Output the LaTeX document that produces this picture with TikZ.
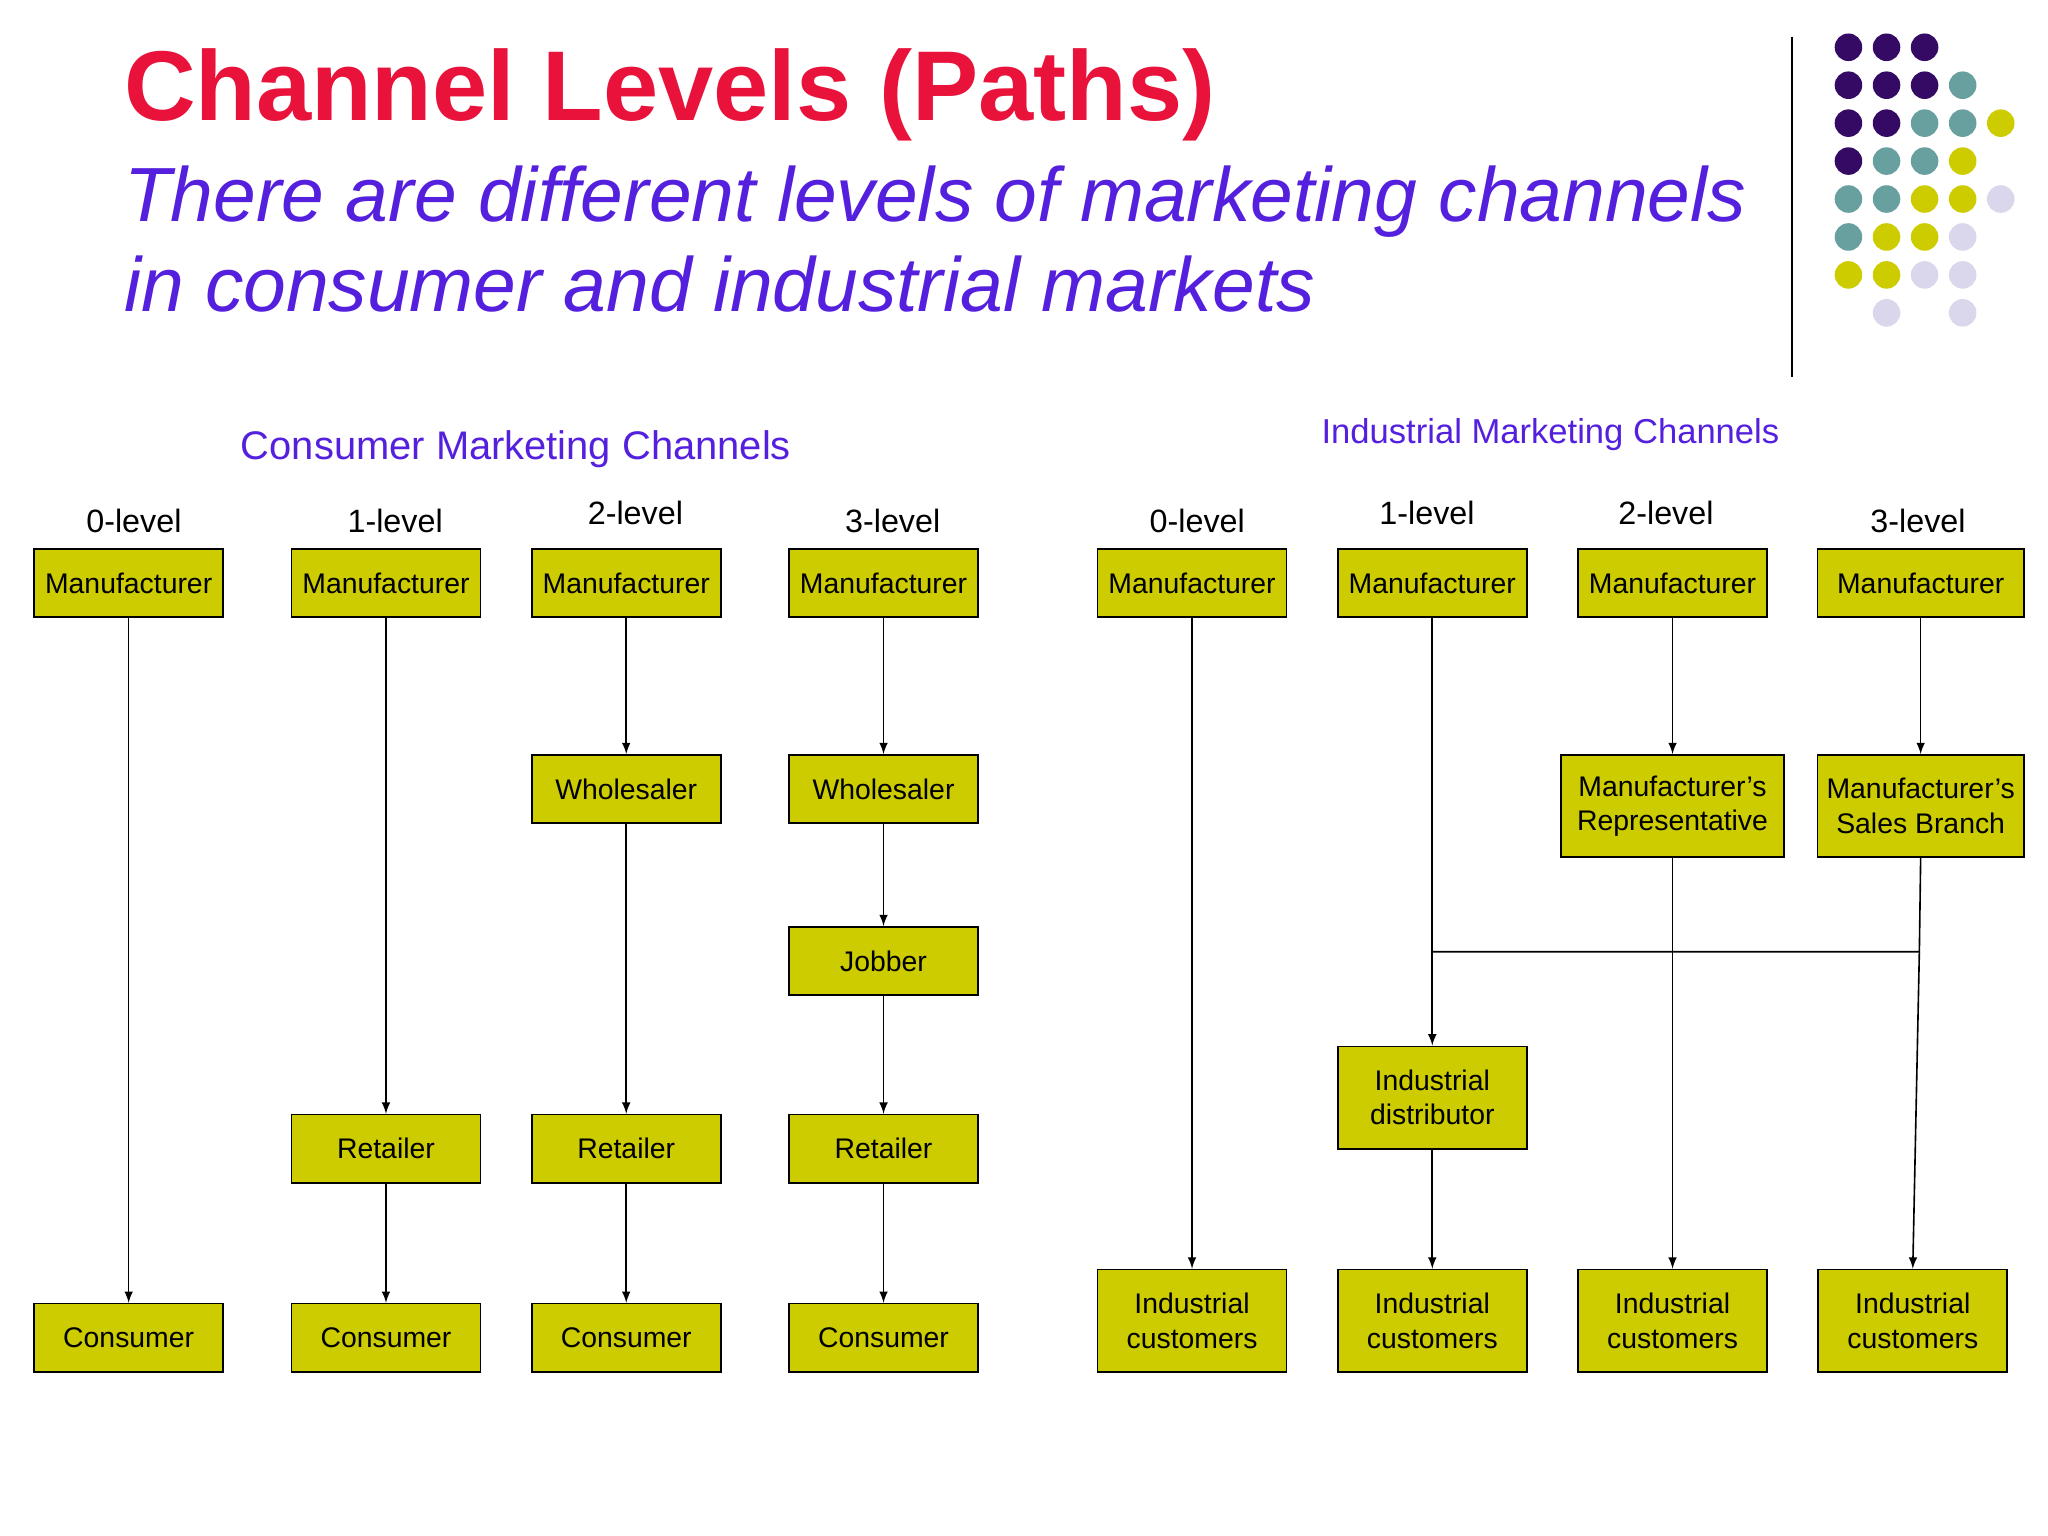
\documentclass[tikz,border=0pt]{standalone}
\usepackage{fontspec}
\setmainfont{Liberation Sans}
\usetikzlibrary{arrows}
\definecolor{olive}{RGB}{204,204,0}
\definecolor{titlered}{RGB}{232,18,58}
\definecolor{subblue}{RGB}{84,32,222}
\definecolor{dpurple}{RGB}{52,10,100}
\definecolor{dteal}{RGB}{104,160,160}
\definecolor{dyellow}{RGB}{204,204,0}
\definecolor{dlav}{RGB}{218,214,236}
\tikzset{
  box/.style={draw,fill=olive,minimum width=2.88cm,minimum height=1.04cm,inner sep=0pt,align=center,font=\fontsize{12.3}{15}\selectfont},
  tall/.style={box,minimum height=1.56cm},
  lvl/.style={font=\fontsize{14}{16}\selectfont},
  arr/.style={-latex},
  dot/.style={circle,inner sep=0pt,minimum size=0.42cm}
}
\begin{document}
\begin{tikzpicture}[x=0.02cm,y=-0.02cm,line width=0.7pt]
  \useasboundingbox (0,0) rectangle (1560,1170);

  \node[anchor=west,text=titlered,font=\fontsize{43}{50}\selectfont\bfseries] (title) at (88,72) {Channel Levels (Paths)};
  \node[anchor=north west,text=subblue,align=left,font=\fontsize{33.3}{39}\itshape] (sub) at (88,120) {There are different levels of marketing channels\\in consumer and industrial markets};
  \draw (1365,28) -- (1365,287);

  % dots
  \foreach \c/\x/\y in {dpurple/0/0,dpurple/1/0,dpurple/2/0,
      dpurple/0/1,dpurple/1/1,dpurple/2/1,dteal/3/1,
      dpurple/0/2,dpurple/1/2,dteal/2/2,dteal/3/2,dyellow/4/2,
      dpurple/0/3,dteal/1/3,dteal/2/3,dyellow/3/3,
      dteal/0/4,dteal/1/4,dyellow/2/4,dyellow/3/4,dlav/4/4,
      dteal/0/5,dyellow/1/5,dyellow/2/5,dlav/3/5,
      dyellow/0/6,dyellow/1/6,dlav/2/6,dlav/3/6,
      dlav/1/7,dlav/3/7}
    \node[dot,fill=\c] at (1408+29*\x,36+28.9*\y) {};

  \node[text=subblue,font=\fontsize{17.3}{20}\selectfont] (hc) at (393,342) {Consumer Marketing Channels};
  \node[text=subblue,font=\fontsize{15}{18}\selectfont] (hi) at (1181,331) {Industrial Marketing Channels};

  % consumer
  \node[lvl] (l0) at (102,397) {0-level};
  \node[lvl] (l1) at (301,397) {1-level};
  \node[lvl] (l2) at (484,391) {2-level};
  \node[lvl] (l3) at (680,397) {3-level};
  \node[box] (M0) at (98,444) {Manufacturer};
  \node[box] (M1) at (294,444) {Manufacturer};
  \node[box] (M2) at (477,444) {Manufacturer};
  \node[box] (M3) at (673,444) {Manufacturer};
  \node[box] (W2) at (477,601) {Wholesaler};
  \node[box] (W3) at (673,601) {Wholesaler};
  \node[box] (J3) at (673,732) {Jobber};
  \node[box] (R1) at (294,875) {Retailer};
  \node[box] (R2) at (477,875) {Retailer};
  \node[box] (R3) at (673,875) {Retailer};
  \node[box] (C0) at (98,1019) {Consumer};
  \node[box] (C1) at (294,1019) {Consumer};
  \node[box] (C2) at (477,1019) {Consumer};
  \node[box] (C3) at (673,1019) {Consumer};

  \draw[arr] (M0) -- (C0);
  \draw[arr] (M1) -- (R1);
  \draw[arr] (R1) -- (C1);
  \draw[arr] (M2) -- (W2);
  \draw[arr] (W2) -- (R2);
  \draw[arr] (R2) -- (C2);
  \draw[arr] (M3) -- (W3);
  \draw[arr] (W3) -- (J3);
  \draw[arr] (J3) -- (R3);
  \draw[arr] (R3) -- (C3);

  % industrial
  \node[lvl] (k0) at (912,397) {0-level};
  \node[lvl] (k1) at (1087,391) {1-level};
  \node[lvl] (k2) at (1269,391) {2-level};
  \node[lvl] (k3) at (1461,397) {3-level};
  \node[box] (N0) at (908,444) {Manufacturer};
  \node[box] (N1) at (1091,444) {Manufacturer};
  \node[box] (N2) at (1274,444) {Manufacturer};
  \node[box,minimum width=3.14cm] (N3) at (1463,444) {Manufacturer};
  \node[tall,minimum width=3.4cm] (MR) at (1274,614) {Manufacturer’s\\Representative};
  \node[tall,minimum width=3.14cm] (SB) at (1463,614) {Manufacturer’s\\Sales Branch};
  \node[tall] (ID) at (1091,836) {Industrial\\distributor};
  \node[tall] (I0) at (908,1006) {Industrial\\customers};
  \node[tall] (I1) at (1091,1006) {Industrial\\customers};
  \node[tall] (I2) at (1274,1006) {Industrial\\customers};
  \node[tall] (I3) at (1457,1006) {Industrial\\customers};
  \coordinate (jn) at (1462,725);
  \coordinate (jw) at (1091,725);

  \draw[arr] (N0) -- (I0);
  \draw[arr] (N1) -- (ID);
  \draw[arr] (ID) -- (I1);
  \draw[arr] (N2) -- (MR);
  \draw[arr] (MR) -- (I2);
  \draw[arr] (N3) -- (SB);
  \draw (SB.south) -- (jn) -- (jw);
  \draw[arr] (jn) -- (I3.north);
\end{tikzpicture}
\end{document}
